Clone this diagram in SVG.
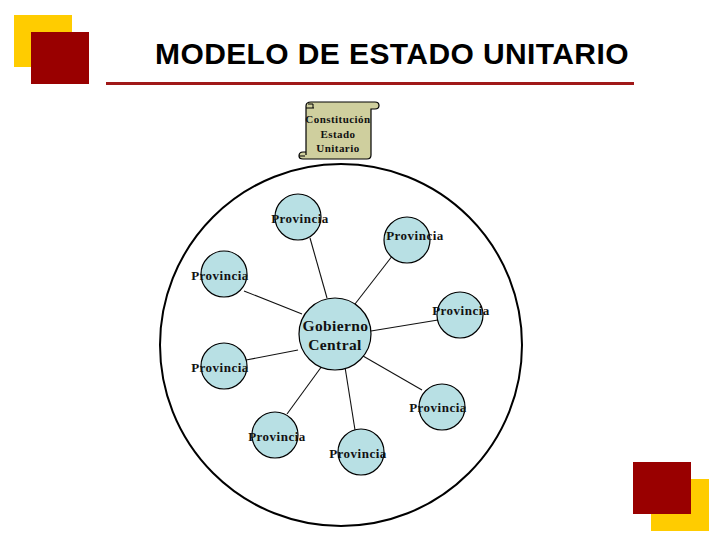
<svg xmlns="http://www.w3.org/2000/svg" width="728" height="546" viewBox="0 0 728 546">
<style>
.y{fill:#ffcc00}.r{fill:#990000}
.n{fill:#b8e0e4;stroke:#000;stroke-width:1.2}
.p{font:bold 13px "Liberation Serif",serif;text-anchor:middle;fill:#111;letter-spacing:.5px}
.g{font:bold 15.500px "Liberation Serif",serif;text-anchor:middle;fill:#111;letter-spacing:.4px}
.s{font:bold 11px "Liberation Serif",serif;text-anchor:middle;fill:#111;letter-spacing:.45px}
.c line{stroke:#111;stroke-width:1.1}
.sc{fill:#cfcf9e;stroke:#000;stroke-width:1.2}
</style>
<rect width="728" height="546" fill="#fff"/>
<g id="deco">
<rect class="y" x="14" y="15" width="58" height="52"/>
<rect class="r" x="31" y="32" width="58" height="52"/>
<rect class="y" x="651" y="479" width="58" height="52"/>
<rect class="r" x="633" y="462" width="58" height="52"/>
</g>
<text x="155" y="64" font-family="Liberation Sans,Arial,sans-serif" font-weight="bold" font-size="30" fill="#000" letter-spacing="0.4">MODELO DE ESTADO UNITARIO</text>
<rect x="106" y="82" width="528" height="3" fill="#a01818"/>
<circle id="outer" cx="341" cy="345" r="181" fill="#fff" stroke="#000" stroke-width="2"/>
<g class="c" id="connectors">
<line x1="327" y1="298" x2="310" y2="238"/>
<line x1="355" y1="304" x2="393" y2="255"/>
<line x1="371" y1="331" x2="438" y2="320"/>
<line x1="363" y1="356" x2="422" y2="390"/>
<line x1="345" y1="367" x2="355" y2="430"/>
<line x1="322" y1="366" x2="287" y2="414"/>
<line x1="298" y1="350" x2="246" y2="360"/>
<line x1="302" y1="314" x2="244" y2="291"/>
</g>
<g id="scroll">
<path class="sc" d="M306 155 V106 Q306 102 311 102 H375 Q379 102 379 105.500 Q379 109 375 109 H371 V155 Q371 159 367 159 H303 Q299 159 299 156 Q299 152 303 152 H306"/>
<path d="M306 108 H314 M308 104 H313 V108 M299 156 H305" fill="none" stroke="#000"/>
<text class="s" x="338" y="123">Constitución</text>
<text class="s" x="338" y="138">Estado</text>
<text class="s" x="338" y="152">Unitario</text>
</g>
<g id="centro"><circle class="n" cx="335" cy="334" r="36"/><text class="g" x="335.500" y="331">Gobierno</text><text class="g" x="335" y="350">Central</text></g>
<g id="p1"><circle class="n" cx="298" cy="217" r="23"/><text class="p" x="300" y="223">Provincia</text></g>
<g id="p2"><circle class="n" cx="407" cy="240" r="23"/><text class="p" x="415" y="240">Provincia</text></g>
<g id="p3"><circle class="n" cx="460" cy="315" r="23"/><text class="p" x="461" y="315">Provincia</text></g>
<g id="p4"><circle class="n" cx="442" cy="407" r="23"/><text class="p" x="438" y="412">Provincia</text></g>
<g id="p5"><circle class="n" cx="361" cy="452" r="23"/><text class="p" x="358" y="458">Provincia</text></g>
<g id="p6"><circle class="n" cx="275" cy="435" r="23"/><text class="p" x="277" y="441">Provincia</text></g>
<g id="p7"><circle class="n" cx="224" cy="366" r="23"/><text class="p" x="220" y="372">Provincia</text></g>
<g id="p8"><circle class="n" cx="224" cy="274" r="23"/><text class="p" x="220" y="280">Provincia</text></g>
</svg>
